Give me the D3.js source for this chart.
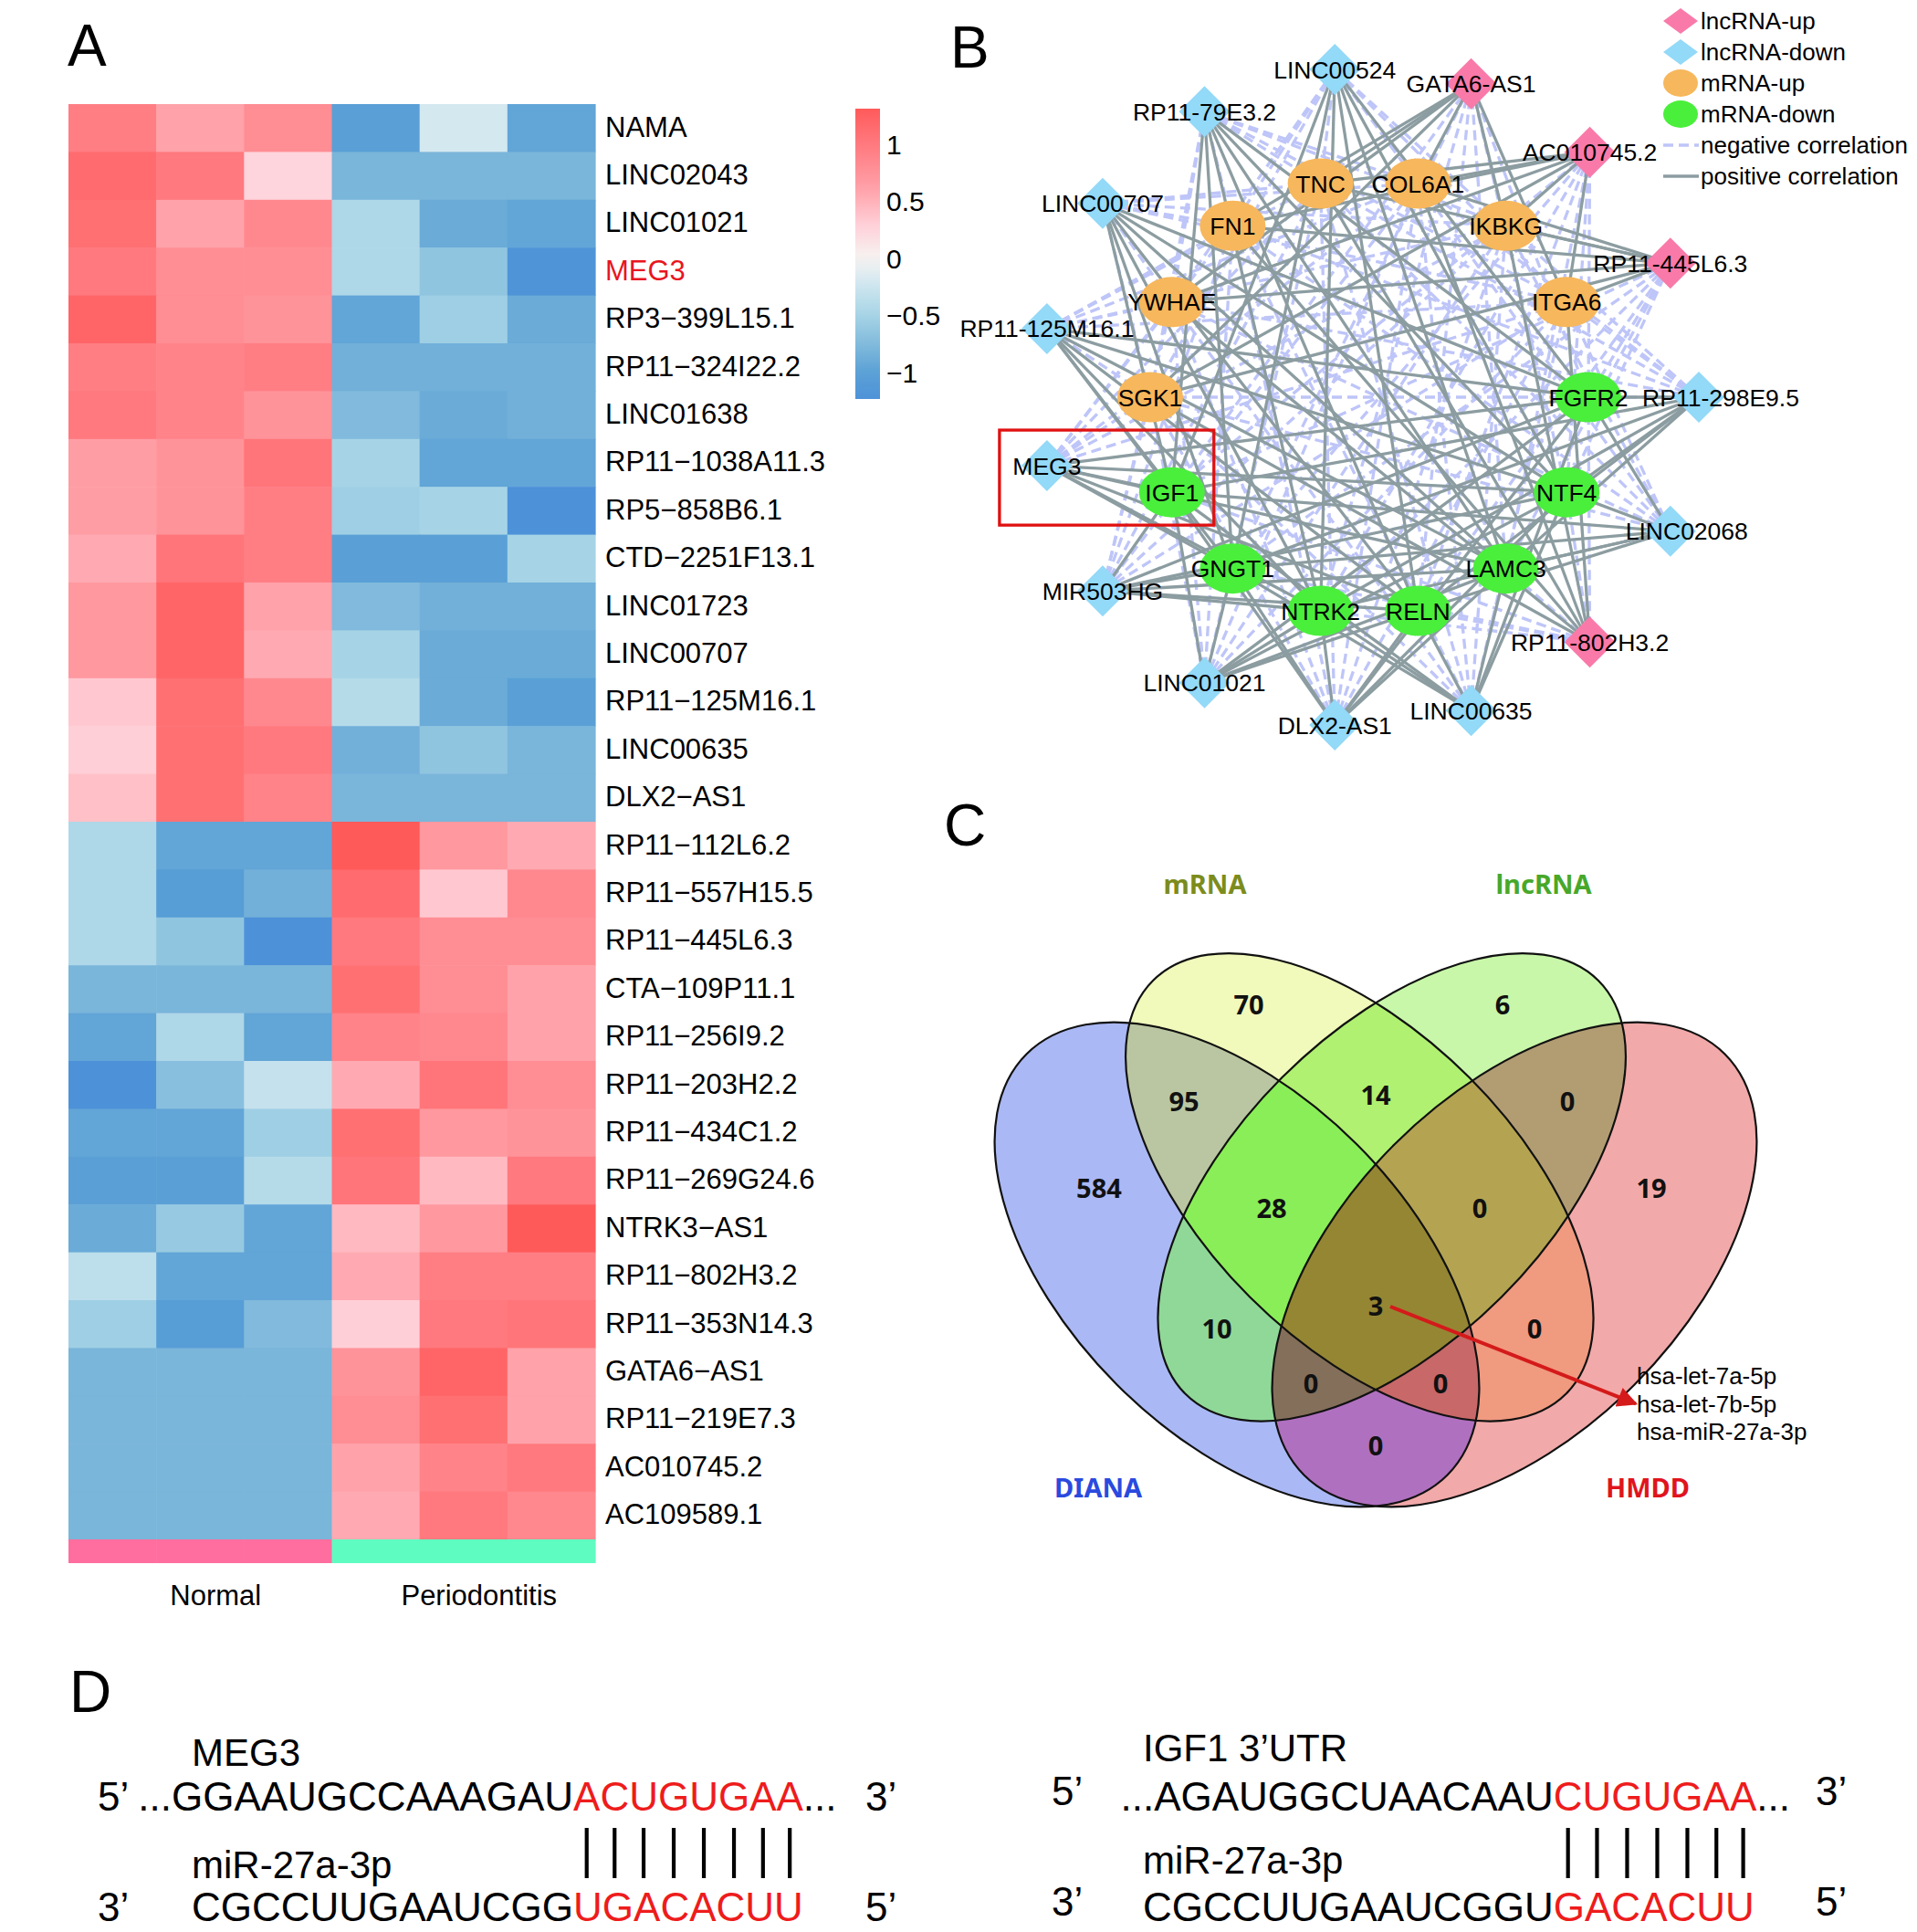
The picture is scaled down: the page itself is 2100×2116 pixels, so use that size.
<!DOCTYPE html>
<html>
<head>
<meta charset="utf-8">
<script src="https://cdn.jsdelivr.net/npm/d3@7"></script>
<style>
  html, body { margin: 0; padding: 0; background: #fff; }
  svg { display: block; font-family: "Liberation Sans", Arial, sans-serif; }
</style>
</head>
<body>
<svg id="fig"></svg>
<script>
// ---------------- data: A (heatmap)
const samples = ['N1', 'N2', 'N3', 'P1', 'P2', 'P3'];
const sampleGroups = ['Normal', 'Normal', 'Normal', 'Periodontitis', 'Periodontitis', 'Periodontitis'];
const groupNames = ['Normal', 'Periodontitis'];
const groupColors = ['#FF6E9E', '#5FFCC2'];
const genes = [
  'NAMA', 'LINC02043', 'LINC01021', 'MEG3', 'RP3−399L15.1', 'RP11−324I22.2', 'LINC01638',
  'RP11−1038A11.3', 'RP5−858B6.1', 'CTD−2251F13.1', 'LINC01723', 'LINC00707', 'RP11−125M16.1',
  'LINC00635', 'DLX2−AS1', 'RP11−112L6.2', 'RP11−557H15.5', 'RP11−445L6.3', 'CTA−109P11.1',
  'RP11−256I9.2', 'RP11−203H2.2', 'RP11−434C1.2', 'RP11−269G24.6', 'NTRK3−AS1', 'RP11−802H3.2',
  'RP11−353N14.3', 'GATA6−AS1', 'RP11−219E7.3', 'AC010745.2', 'AC109589.1'
];
const zScores = [
  [0.95, 0.6, 0.8, -1.0, -0.2, -0.95],
  [1.15, 1.0, 0.25, -0.8, -0.8, -0.8],
  [1.1, 0.6, 0.85, -0.45, -0.9, -0.95],
  [1.0, 0.8, 0.8, -0.45, -0.65, -1.2],
  [1.2, 0.8, 0.75, -0.95, -0.55, -0.9],
  [0.95, 0.9, 0.95, -0.85, -0.85, -0.85],
  [1.0, 0.9, 0.75, -0.75, -0.9, -0.85],
  [0.65, 0.75, 1.05, -0.5, -0.95, -0.95],
  [0.65, 0.75, 0.95, -0.55, -0.5, -1.25],
  [0.55, 1.05, 0.95, -1.0, -1.0, -0.5],
  [0.7, 1.2, 0.6, -0.75, -0.85, -0.85],
  [0.7, 1.2, 0.55, -0.5, -0.9, -0.9],
  [0.35, 1.1, 0.85, -0.4, -0.9, -1.0],
  [0.3, 1.1, 1.0, -0.85, -0.65, -0.8],
  [0.4, 1.1, 0.9, -0.8, -0.8, -0.8],
  [-0.45, -0.95, -0.95, 1.3, 0.7, 0.55],
  [-0.45, -1.05, -0.85, 1.15, 0.35, 0.85],
  [-0.45, -0.65, -1.25, 1.0, 0.8, 0.8],
  [-0.8, -0.8, -0.8, 1.1, 0.8, 0.6],
  [-0.95, -0.45, -0.95, 0.9, 0.85, 0.6],
  [-1.25, -0.7, -0.3, 0.55, 1.05, 0.8],
  [-0.95, -0.95, -0.55, 1.1, 0.7, 0.75],
  [-1.0, -1.0, -0.4, 1.05, 0.45, 1.0],
  [-0.9, -0.6, -0.95, 0.45, 0.7, 1.3],
  [-0.35, -0.95, -0.95, 0.55, 0.95, 0.95],
  [-0.55, -1.05, -0.75, 0.3, 1.0, 1.05],
  [-0.8, -0.8, -0.8, 0.75, 1.2, 0.6],
  [-0.8, -0.8, -0.8, 0.8, 1.1, 0.6],
  [-0.8, -0.8, -0.8, 0.6, 0.9, 1.0],
  [-0.8, -0.8, -0.8, 0.55, 1.0, 0.85]
];
const legendTicks = [-1, -0.5, 0, 0.5, 1];
const highlightGene = 'MEG3';

// ---------------- data: B (network), listed clockwise from 3 o'clock
const lncRNAs = ['RP11-298E9.5', 'LINC02068', 'RP11-802H3.2', 'LINC00635', 'DLX2-AS1', 'LINC01021',
  'MIR503HG', 'MEG3', 'RP11-125M16.1', 'LINC00707', 'RP11-79E3.2', 'LINC00524', 'GATA6-AS1',
  'AC010745.2', 'RP11-445L6.3'];
const lncRegulation = ['down', 'down', 'up', 'down', 'down', 'down', 'down', 'down', 'down', 'down',
  'down', 'down', 'up', 'up', 'up'];
const mRNAs = ['FGFR2', 'NTF4', 'LAMC3', 'RELN', 'NTRK2', 'GNGT1', 'IGF1', 'SGK1', 'YWHAE', 'FN1',
  'TNC', 'COL6A1', 'IKBKG', 'ITGA6'];
const mRNARegulation = ['down', 'down', 'down', 'down', 'down', 'down', 'down', 'up', 'up', 'up',
  'up', 'up', 'up', 'up'];
const netLegendLabels = ['lncRNA-up', 'lncRNA-down', 'mRNA-up', 'mRNA-down', 'negative correlation', 'positive correlation'];

// ---------------- data: C (venn)
const vennSets = ['DIANA', 'mRNA', 'lncRNA', 'HMDD'];
const vennSetColors = ['#2A4ADF', '#7C8C1C', '#47A82A', '#E0141E'];
const vennRegions = [[0], [1], [2], [3], [0, 1], [0, 2], [0, 3], [1, 2], [1, 3], [2, 3],
  [0, 1, 2], [0, 1, 3], [0, 2, 3], [1, 2, 3], [0, 1, 2, 3]];
const vennCounts = [584, 70, 6, 19, 95, 10, 0, 14, 0, 0, 28, 0, 0, 0, 3];
const vennRegionColors = ['#AAB8F5', '#F1F9BB', '#C8F7A9', '#F2A9A9', '#BAC6A2', '#90D898', '#B070C0',
  '#B0F171', '#F09A80', '#B29D73', '#8AEE58', '#C86868', '#846F5A', '#B4A452', '#958633'];
const sharedMiRNAs = ['hsa-let-7a-5p', 'hsa-let-7b-5p', 'hsa-miR-27a-3p'];

// ---------------- data: D (binding sites)
const targetNames = ['MEG3', 'IGF1 3’UTR'];
const targetSeqs = [['...GGAAUGCCAAAGAU', 'ACUGUGAA', '...'], ['...AGAUGGCUAACAAU', 'CUGUGAA', '...']];
const mirName = 'miR-27a-3p';
const mirSeqs = [['CGCCUUGAAUCGG', 'UGACACUU'], ['CGCCUUGAAUCGGU', 'GACACUU']];

// ---------------- setup
const W = 2100, H = 2116;
const svg = d3.select('#fig').attr('width', W).attr('height', H).attr('viewBox', `0 0 ${W} ${H}`);
svg.append('rect').attr('width', W).attr('height', H).attr('fill', '#fff');
const defs = svg.append('defs');

// panel letters
const letters = [['A', 74, 72], ['B', 1041, 74], ['C', 1034, 926], ['D', 76, 1875]];
svg.selectAll('text.panel').data(letters).enter().append('text')
  .attr('class', 'panel')
  .attr('x', d => d[1]).attr('y', d => d[2])
  .attr('font-size', 64).attr('fill', '#000')
  .text(d => d[0]);

// ================= A: heatmap
const hmX = d3.scaleBand().domain(samples).range([75, 652]);
const hmY = d3.scaleBand().domain(genes).range([114, 1686]);
const heatColor = d3.scaleLinear()
  .domain([-1.3, -1.0, -0.8, -0.5, -0.2, 0, 0.3, 0.6, 0.9, 1.15, 1.3])
  .range(['#4A8ED8', '#5AA0D6', '#7AB5DA', '#A6D4E6', '#D4E8F0', '#F7F4F2', '#FFCFD7', '#FFA2AA', '#FF8389', '#FF6B6E', '#FF5A5A'])
  .clamp(true);

const cells = [];
genes.forEach(function (g, i) {
  samples.forEach(function (s, j) {
    cells.push({ gene: g, sample: s, value: zScores[i][j] });
  });
});

const gA = svg.append('g');
gA.selectAll('rect.cell').data(cells).enter().append('rect')
  .attr('class', 'cell')
  .attr('x', d => hmX(d.sample))
  .attr('y', d => hmY(d.gene))
  .attr('width', hmX.bandwidth() + 0.6)
  .attr('height', hmY.bandwidth() + 0.6)
  .attr('fill', d => heatColor(d.value));

// group annotation bar
const groupColor = d3.scaleOrdinal().domain(groupNames).range(groupColors);
gA.selectAll('rect.anno').data(samples).enter().append('rect')
  .attr('x', d => hmX(d))
  .attr('y', 1686)
  .attr('width', hmX.bandwidth() + 0.6)
  .attr('height', 26)
  .attr('fill', (d, i) => groupColor(sampleGroups[i]));

gA.selectAll('text.group').data(groupNames).enter().append('text')
  .attr('x', function (g) {
    const xs = samples.filter((s, i) => sampleGroups[i] === g).map(s => hmX(s) + hmX.bandwidth() / 2);
    return d3.mean(xs) + 17;
  })
  .attr('y', 1758)
  .attr('text-anchor', 'middle')
  .attr('font-size', 31)
  .text(d => d);

// row labels
gA.selectAll('text.row').data(genes).enter().append('text')
  .attr('x', 663)
  .attr('y', d => hmY(d) + hmY.bandwidth() / 2)
  .attr('dy', '0.3em')
  .attr('font-size', 31)
  .attr('fill', d => d === highlightGene ? '#E8161E' : '#000')
  .text(d => d);

// colour legend
const legendScale = d3.scaleLinear().domain([-1.23, 1.31]).range([437, 119]);
const grad = defs.append('linearGradient').attr('id', 'hmgrad')
  .attr('x1', 0).attr('y1', 1).attr('x2', 0).attr('y2', 0);
d3.range(0, 1.0001, 0.05).forEach(function (t) {
  const v = -1.23 + t * 2.54;
  grad.append('stop').attr('offset', t).attr('stop-color', heatColor(v));
});
gA.append('rect')
  .attr('x', 937).attr('y', legendScale(1.31))
  .attr('width', 27).attr('height', legendScale(-1.23) - legendScale(1.31))
  .attr('fill', 'url(#hmgrad)');
gA.selectAll('text.tick').data(legendTicks).enter().append('text')
  .attr('x', 971)
  .attr('y', d => legendScale(d))
  .attr('dy', '0.36em')
  .attr('font-size', 30)
  .text(d => d < 0 ? '−' + Math.abs(d) : String(d));

// ================= B: network
const netCx = 1500, netCy = 435, outerR = 361, innerR = 240;
const outerAngle = d3.scaleLinear().domain([0, lncRNAs.length]).range([90, 450]);
const innerAngle = d3.scaleLinear().domain([0, mRNAs.length]).range([90, 450]);
const rad = Math.PI / 180;
const labelNudge = { 'RP11-298E9.5': 24, 'LINC02068': 18 };

const lncNodes = lncRNAs.map(function (name, i) {
  const a = outerAngle(i) * rad;
  return { name: name, reg: lncRegulation[i], kind: 'lnc', x: netCx + outerR * Math.sin(a), y: netCy - outerR * Math.cos(a) };
});
const mrnaNodes = mRNAs.map(function (name, i) {
  const a = innerAngle(i) * rad;
  return { name: name, reg: mRNARegulation[i], kind: 'mrna', x: netCx + innerR * Math.sin(a), y: netCy - innerR * Math.cos(a) };
});
const links = d3.cross(lncNodes, mrnaNodes).map(function (p) {
  return { source: p[0], target: p[1], positive: p[0].reg === p[1].reg };
});

const gB = svg.append('g');
gB.selectAll('line.neg').data(links.filter(d => !d.positive)).enter().append('line')
  .attr('x1', d => d.source.x).attr('y1', d => d.source.y)
  .attr('x2', d => d.target.x).attr('y2', d => d.target.y)
  .attr('stroke', '#BEC5F8').attr('stroke-width', 3.3).attr('stroke-dasharray', '11,6');
gB.selectAll('line.pos').data(links.filter(d => d.positive)).enter().append('line')
  .attr('x1', d => d.source.x).attr('y1', d => d.source.y)
  .attr('x2', d => d.target.x).attr('y2', d => d.target.y)
  .attr('stroke', '#8C9DA1').attr('stroke-width', 3.3);

const nodeFill = { 'lnc-up': '#F97AA9', 'lnc-down': '#93D9F8', 'mrna-up': '#F7B75C', 'mrna-down': '#4AEF3C' };
function diamondPath(w, h) { return `M0,${-h}L${w},0L0,${h}L${-w},0Z`; }

gB.selectAll('path.lnc').data(lncNodes).enter().append('path')
  .attr('transform', d => `translate(${d.x},${d.y})`)
  .attr('d', diamondPath(28, 28))
  .attr('fill', d => nodeFill['lnc-' + d.reg]);
gB.selectAll('ellipse.mrna').data(mrnaNodes).enter().append('ellipse')
  .attr('cx', d => d.x).attr('cy', d => d.y)
  .attr('rx', 36).attr('ry', 27.5)
  .attr('fill', d => nodeFill['mrna-' + d.reg]);
gB.selectAll('text.node').data(lncNodes.concat(mrnaNodes)).enter().append('text')
  .attr('x', d => d.x + (labelNudge[d.name] || 0)).attr('y', d => d.y)
  .attr('dy', '0.36em')
  .attr('text-anchor', 'middle')
  .attr('font-size', 26.5)
  .text(d => d.name);

// highlight box around MEG3 / IGF1
const meg = lncNodes.find(d => d.name === 'MEG3');
const igf = mrnaNodes.find(d => d.name === 'IGF1');
gB.append('rect')
  .attr('x', meg.x - 52).attr('y', meg.y - 39)
  .attr('width', (igf.x + 46) - (meg.x - 52))
  .attr('height', (igf.y + 36) - (meg.y - 39))
  .attr('fill', 'none').attr('stroke', '#E01010').attr('stroke-width', 3.3);

// legend
const legY = d3.scaleLinear().domain([0, 5]).range([23, 193]);
const gLeg = gB.append('g');
netLegendLabels.forEach(function (lab, i) {
  const y = legY(i);
  if (i < 2) {
    gLeg.append('path').attr('transform', `translate(1841,${y})`).attr('d', diamondPath(19, 14))
      .attr('fill', i === 0 ? nodeFill['lnc-up'] : nodeFill['lnc-down']);
  } else if (i < 4) {
    gLeg.append('ellipse').attr('cx', 1841).attr('cy', y).attr('rx', 19).attr('ry', 15)
      .attr('fill', i === 2 ? nodeFill['mrna-up'] : nodeFill['mrna-down']);
  } else {
    gLeg.append('line').attr('x1', 1822).attr('x2', 1861).attr('y1', y).attr('y2', y)
      .attr('stroke', i === 4 ? '#BEC5F8' : '#8C9DA1').attr('stroke-width', 3.3)
      .attr('stroke-dasharray', i === 4 ? '11,6' : null);
  }
  gLeg.append('text').attr('x', 1863).attr('y', y).attr('dy', '0.34em')
    .attr('font-size', 26).text(lab);
});

// ================= C: venn
const vennK = 1000;
const vx = d3.scaleLinear().domain([0, 1]).range([1507, 1507 + vennK]);
const vy = d3.scaleLinear().domain([0, 1]).range([1318, 1318 + vennK]);
const vennShapes = [
  { cx: -0.152, cy: 0.067, a: 0.326, b: 0.186, rot: 45 },
  { cx: -0.0177, cy: -0.0177, a: 0.320, b: 0.170, rot: 45 },
  { cx: 0.0177, cy: -0.0177, a: 0.320, b: 0.170, rot: -45 },
  { cx: 0.152, cy: 0.067, a: 0.326, b: 0.186, rot: -45 }
];
function addEllipse(sel, s) {
  return sel.append('ellipse')
    .attr('cx', 0).attr('cy', 0)
    .attr('rx', vx(s.a) - vx(0)).attr('ry', vx(s.b) - vx(0))
    .attr('transform', `translate(${vx(s.cx)},${vy(s.cy)}) rotate(${s.rot})`);
}
vennShapes.forEach(function (s, i) {
  addEllipse(defs.append('clipPath').attr('id', 'vclip' + i), s);
});

const gC = svg.append('g');
const regionOrder = d3.range(vennRegions.length).sort((a, b) => vennRegions[a].length - vennRegions[b].length);
regionOrder.forEach(function (r) {
  const members = vennRegions[r];
  let g = gC;
  members.slice(1).forEach(function (k) {
    g = g.append('g').attr('clip-path', `url(#vclip${k})`);
  });
  addEllipse(g, vennShapes[members[0]]).attr('fill', vennRegionColors[r]);
});
vennShapes.forEach(function (s) {
  addEllipse(gC, s).attr('fill', 'none').attr('stroke', '#111').attr('stroke-width', 2.2);
});

const vennLabelPos = [
  [-0.303, -0.016], [-0.139, -0.217], [0.139, -0.217], [0.302, -0.016],
  [-0.210, -0.111], [-0.174, 0.138], [0, 0.266], [0, -0.118], [0.174, 0.138], [0.210, -0.111],
  [-0.114, 0.006], [0.071, 0.198], [-0.071, 0.198], [0.114, 0.006], [0, 0.113]
];
gC.selectAll('text.count').data(vennCounts).enter().append('text')
  .attr('x', (d, i) => vx(vennLabelPos[i][0]))
  .attr('y', (d, i) => vy(vennLabelPos[i][1]))
  .attr('dy', '0.36em')
  .attr('text-anchor', 'middle')
  .attr('font-family', '"Noto Sans", "Liberation Sans", sans-serif')
  .attr('font-weight', 'bold')
  .attr('font-size', 29)
  .attr('fill', '#111')
  .text(d => d);

const vennNamePos = [[-0.304, 0.312], [-0.187, -0.349], [0.184, -0.349], [0.298, 0.312]];
gC.selectAll('text.setname').data(vennSets).enter().append('text')
  .attr('x', (d, i) => vx(vennNamePos[i][0]))
  .attr('y', (d, i) => vy(vennNamePos[i][1]))
  .attr('dy', '0.36em')
  .attr('text-anchor', 'middle')
  .attr('font-family', '"Noto Sans", "Liberation Sans", sans-serif')
  .attr('font-weight', 'bold')
  .attr('font-size', 29)
  .attr('fill', (d, i) => vennSetColors[i])
  .text(d => d);

// arrow from the shared region to the miRNA list
const listY = d3.scaleLinear().domain([0, 2]).range([1507, 1568]);
defs.append('marker').attr('id', 'arrowhead')
  .attr('viewBox', '0 0 10 10').attr('refX', 9).attr('refY', 5)
  .attr('markerWidth', 28).attr('markerHeight', 22)
  .attr('markerUnits', 'userSpaceOnUse').attr('orient', 'auto')
  .append('path').attr('d', 'M0,0L10,5L0,10Z').attr('fill', '#D41A1A');
gC.append('line')
  .attr('x1', vx(0) + 16).attr('y1', vy(0.113))
  .attr('x2', 1792).attr('y2', listY(1))
  .attr('stroke', '#D41A1A').attr('stroke-width', 4)
  .attr('marker-end', 'url(#arrowhead)');
gC.selectAll('text.mir').data(sharedMiRNAs).enter().append('text')
  .attr('x', 1793)
  .attr('y', (d, i) => listY(i))
  .attr('dy', '0.36em')
  .attr('font-size', 26)
  .text(d => d);

// ================= D: binding sites
const redText = '#EE1C1C';
const gD = svg.append('g').attr('font-size', 44);
const primeX = [107, 1152], seqX = [210, 1252], endX = [948, 1989];
const labelBase = [1934, 1929], topBase = [1983, 1983], mirBase = [2057, 2052], bottomBase = [2104, 2104];
const primeShift = [0, -6];

function textWidth(str, size) {
  const t = gD.append('text').attr('font-size', size).text(str);
  const w = t.node().getComputedTextLength();
  t.remove();
  return w;
}

[0, 1].forEach(function (i) {
  // target label and miRNA label
  gD.append('text').attr('x', seqX[i]).attr('y', labelBase[i]).attr('font-size', 42).text(targetNames[i]);
  gD.append('text').attr('x', seqX[i]).attr('y', mirBase[i]).attr('font-size', 42).text(mirName);

  // miRNA sequence (bottom)
  const bottom = gD.append('text').attr('x', seqX[i]).attr('y', bottomBase[i]);
  bottom.append('tspan').text(mirSeqs[i][0]);
  bottom.append('tspan').attr('fill', redText).text(mirSeqs[i][1]);
  const redStart = seqX[i] + textWidth(mirSeqs[i][0], 44);

  // target sequence (top), seed aligned with the miRNA seed
  const topX = redStart - textWidth(targetSeqs[i][0], 44);
  const top = gD.append('text').attr('x', topX).attr('y', topBase[i]);
  top.append('tspan').text(targetSeqs[i][0]);
  top.append('tspan').attr('fill', redText).text(targetSeqs[i][1]);
  top.append('tspan').text(targetSeqs[i][2]);

  // primes
  gD.append('text').attr('x', primeX[i]).attr('y', topBase[i] + primeShift[i]).text('5’');
  gD.append('text').attr('x', endX[i]).attr('y', topBase[i] + primeShift[i]).text('3’');
  gD.append('text').attr('x', primeX[i]).attr('y', bottomBase[i] + primeShift[i]).text('3’');
  gD.append('text').attr('x', endX[i]).attr('y', bottomBase[i] + primeShift[i]).text('5’');

  // pairing bars, one per seed base
  const offset = targetSeqs[i][0].length;
  const barXs = d3.range(targetSeqs[i][1].length).map(function (k) {
    const e = top.node().getExtentOfChar(offset + k);
    return e.x + e.width / 2;
  });
  gD.selectAll(null).data(barXs).enter().append('line')
    .attr('x1', d => d).attr('x2', d => d)
    .attr('y1', 2002).attr('y2', 2057)
    .attr('stroke', '#000').attr('stroke-width', 4.2);
});
</script>
</body>
</html>
